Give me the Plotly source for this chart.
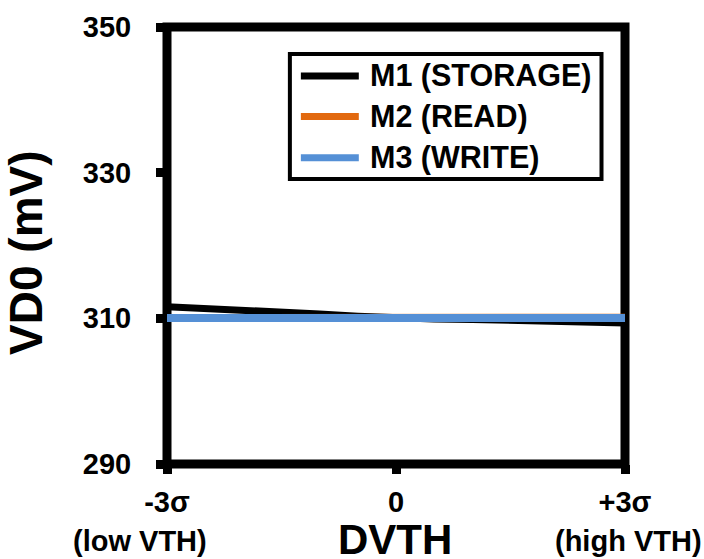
import plotly.graph_objects as go

# Threshold-voltage shift (in sigma) on the x axis
dvth = [-3, -2.5, -2, -1.5, -1, -0.5, 0, 0.5, 1, 1.5, 2, 2.5, 3]

# VD0 (mV) for each transistor
m1_storage = [311.6, 311.4, 311.2, 310.9, 310.6, 310.3, 310.05, 309.9, 309.85, 309.7, 309.65, 309.55, 309.35]
m2_read = [310.1, 310.1, 310.1, 310.1, 310.1, 310.1, 310.12, 310.15, 310.15, 310.15, 310.15, 310.15, 310.15]
m3_write = [310.05, 310.05, 310.05, 310.05, 310.05, 310.05, 310.05, 310.05, 310.05, 310.05, 310.05, 310.05, 310.05]

series_names = ["M1 (STORAGE)", "M2 (READ)", "M3 (WRITE)"]
series_colors = ["#000000", "#E2690F", "#5590D6"]
series_widths = [7, 7, 8]

x_tickvals = [-3, 0, 3]
x_ticktext = ["-3σ", "0", "+3σ"]
x_sublabels = ["(low VTH)", "(high VTH)"]
y_tickvals = [290, 310, 330, 350]
x_title = "DVTH"
y_title = "VD0 (mV)"

FONT = "Liberation Sans, Arial, sans-serif"

fig = go.Figure()
for name, vals, color, w in zip(series_names, [m1_storage, m2_read, m3_write],
                                series_colors, series_widths):
    fig.add_trace(go.Scatter(
        x=dvth, y=vals, mode="lines", name=name, showlegend=False,
        line=dict(color=color, width=w),
    ))

# Plot-area frame (drawn beneath the traces)
fig.add_shape(type="rect", xref="paper", yref="paper", x0=0, x1=1, y0=0, y1=1,
              line=dict(color="black", width=9), layer="below")

# Hand-built legend box with long line samples
L_LEFT, L_RIGHT, L_TOP, L_BOTTOM = 0.2683, 0.9487, 0.9382, 0.6522
fig.add_shape(type="rect", xref="paper", yref="paper",
              x0=L_LEFT, x1=L_RIGHT, y0=L_BOTTOM, y1=L_TOP,
              line=dict(color="black", width=4), fillcolor="white", layer="above")
row_y = [0.8880, 0.7950, 0.7010]
for name, color, ry in zip(series_names, series_colors, row_y):
    fig.add_shape(type="line", xref="paper", yref="paper",
                  x0=0.2923, x1=0.4188, y0=ry, y1=ry,
                  line=dict(color=color, width=7), layer="above")
    fig.add_annotation(xref="paper", yref="paper", x=0.4386, y=ry,
                       xanchor="left", yanchor="middle", showarrow=False,
                       text=name, font=dict(family=FONT, size=30.5, color="black", weight="bold"))

# Second line of the outer x tick labels
for xv, txt, xs in zip([x_tickvals[0], x_tickvals[-1]], x_sublabels, [-27, 3]):
    fig.add_annotation(xref="x", yref="paper", x=xv, y=0, yshift=-77, xshift=xs,
                       xanchor="center", yanchor="middle", showarrow=False,
                       text=txt, font=dict(family=FONT, size=29, color="black", weight="bold"))

# Axis titles
fig.add_annotation(xref="paper", yref="paper", x=0.497, y=0, yshift=-75,
                   xanchor="center", yanchor="middle", showarrow=False,
                   text=x_title, font=dict(family=FONT, size=42, color="black", weight="bold"))
fig.add_annotation(xref="paper", yref="paper", x=0, xshift=-141, y=0.483,
                   xanchor="center", yanchor="middle", showarrow=False, textangle=-90,
                   text=y_title, font=dict(family=FONT, size=46, color="black", weight="bold"))

fig.update_layout(
    width=704, height=559,
    margin=dict(l=167, r=78.5, t=27, b=95, pad=0),
    paper_bgcolor="white", plot_bgcolor="white",
    font=dict(family=FONT, color="black"),
    xaxis=dict(
        range=[-3, 3], tickmode="array", tickvals=x_tickvals, ticktext=x_ticktext,
        ticks="outside", ticklen=9, tickwidth=9, tickcolor="black",
        showline=False, showgrid=False, zeroline=False, automargin=False,
        tickfont=dict(family=FONT, size=29, color="black", weight="bold"),
        ticklabelstandoff=3,
    ),
    yaxis=dict(
        range=[290, 350], tickmode="array", tickvals=y_tickvals,
        ticks="outside", ticklen=10, tickwidth=9, tickcolor="black",
        showline=False, showgrid=False, zeroline=False, automargin=False,
        tickfont=dict(family=FONT, size=29, color="black", weight="bold"),
        ticklabelstandoff=19,
    ),
)

fig.write_html("out.html")
